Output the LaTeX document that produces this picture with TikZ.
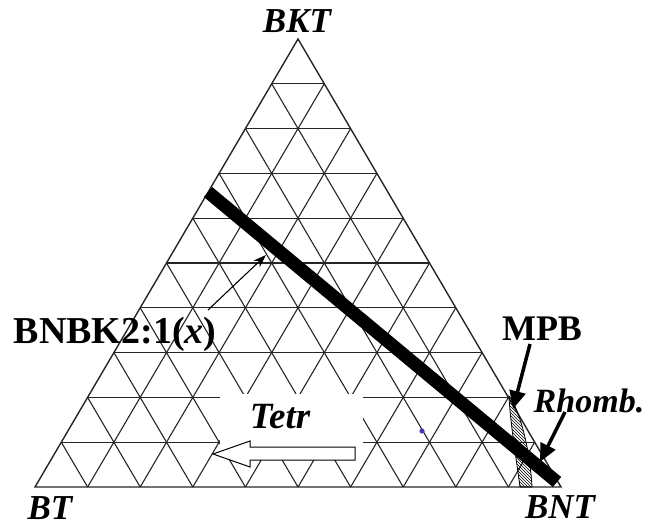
\documentclass[tikz,border=0pt]{standalone}
\usepackage{fontspec}
\setmainfont{Liberation Serif}
\usetikzlibrary{calc,patterns,arrows.meta}
\definecolor{dotblue}{RGB}{70,60,170}
\begin{document}
\begin{tikzpicture}[x=1pt,y=-1pt,
  grid/.style={line width=1.1pt, black!85},
  labbi/.style={font=\fontsize{35}{35}\selectfont\bfseries\itshape, inner sep=0pt, anchor=base},
  labb/.style={font=\fontsize{36}{36}\selectfont\bfseries, inner sep=0pt, anchor=base},
  bigarrow/.style={line width=3.5pt, -{Triangle[length=18pt,width=16pt]}},
  thinarrow/.style={line width=1.1pt, -{Stealth[length=13pt,width=9pt]}}]
\useasboundingbox (0,0) rectangle (647,526);
\coordinate (A) at (35,487);
\coordinate (B) at (561,487);
\coordinate (C) at (298,39);
% grid
\foreach \k in {1,...,9} {
  \draw[grid] ($(A)!\k/10!(C)$) -- ($(B)!\k/10!(C)$);
  \draw[grid] ($(A)!\k/10!(B)$) -- ($(C)!\k/10!(B)$);
  \draw[grid] ($(A)!\k/10!(B)$) -- ($(A)!\k/10!(C)$);
}
\draw[grid, line width=1.4pt] (A) -- (B) -- (C) -- cycle;
% white area for Tetr
\fill[white] (220,394) rectangle (363,459);
\node[labbi, font=\fontsize{37}{37}\selectfont\bfseries\itshape] (tetr) at (280,428) {Tetr};
\draw[line width=1pt, fill=white] (355,447) -- (250,447) -- (250,441) -- (213,454)
  -- (250,467) -- (250,460) -- (355,460) -- cycle;
% blue dot
\fill[dotblue] (422,431) circle (2.6);
% MPB hatched band
\draw[line width=0.8pt, pattern=north west lines]
  (509,396) .. controls (520,410) and (530,450) .. (532,487) -- (520,487)
  .. controls (515,450) and (510,420) .. (509,396) -- cycle;
% thick composition line
\coordinate (L1) at (208,192);
\coordinate (L2) at (557,482);
\draw[line width=13pt] (L1) -- (L2);
% labels
\node[labbi] (bkt) at (297,33) {BKT};
\node[labbi] (bt) at (50,519) {BT};
\node[labbi] (bnt) at (560,518) {BNT};
\node[labb] (mpb) at (542,340) {MPB};
\node[labbi, font=\fontsize{34}{34}\selectfont\bfseries\itshape] (rhomb) at (589,412) {Rhomb.};
\node[labb, font=\fontsize{38}{38}\selectfont\bfseries] (bnbk) at (115,343) {BNBK2:1(\textit{x})};
% arrows
\coordinate (bnbkstart) at (208,310);
\coordinate (bnbktip) at (266,255);
\draw[thinarrow] (bnbkstart) -- (bnbktip);
\coordinate (mpbstart) at (530,344);
\coordinate (mpbtip) at (513,409);
\draw[bigarrow] (mpbstart) -- (mpbtip);
\coordinate (rhstart) at (565,412);
\coordinate (rhtip) at (540,462);
\draw[bigarrow] (rhstart) -- (rhtip);
\end{tikzpicture}
\end{document}
